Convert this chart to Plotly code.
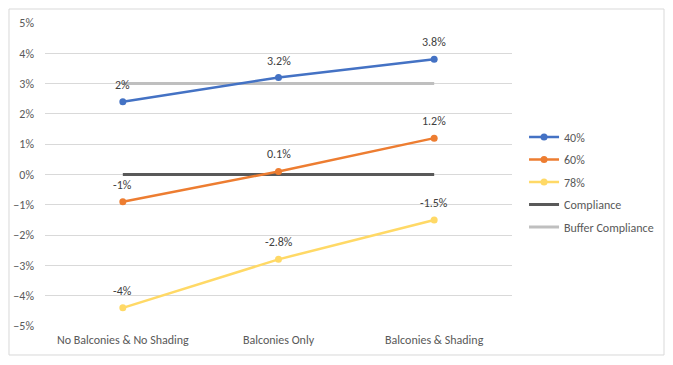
import plotly.graph_objects as go

categories = ["No Balconies & No Shading", "Balconies Only", "Balconies & Shading"]
s40 = [2.4, 3.2, 3.8]
s40_labels = ["2%", "3.2%", "3.8%"]
s60 = [-0.9, 0.1, 1.2]
s60_labels = ["-1%", "0.1%", "1.2%"]
s78 = [-4.4, -2.8, -1.5]
s78_labels = ["-4%", "-2.8%", "-1.5%"]
compliance = [0, 0, 0]
buffer_compliance = [3, 3, 3]

font_family = "Carlito, Liberation Sans, Arial, sans-serif"
txt_color = "#595959"

fig = go.Figure()

fig.add_trace(go.Scatter(x=categories, y=compliance, name="Compliance", mode="lines",
                         line=dict(color="#595959", width=3), legendrank=4, legendgroup="c"))
fig.add_trace(go.Scatter(x=categories, y=buffer_compliance, name="Buffer Compliance", mode="lines",
                         line=dict(color="#BFBFBF", width=3), legendrank=5, legendgroup="b"))

annotations = []
for name, ys, labels, color, rank in [
    ("40%", s40, s40_labels, "#4472C4", 1),
    ("60%", s60, s60_labels, "#ED7D31", 2),
    ("78%", s78, s78_labels, "#FFD966", 3),
]:
    fig.add_trace(go.Scatter(x=categories, y=ys, name=name, mode="lines+markers",
                             line=dict(color=color, width=2.5),
                             marker=dict(color=color, size=7), legendrank=rank,
                             legendgroup=name))
    for c, v, t in zip(categories, ys, labels):
        annotations.append(dict(x=c, y=v, text=t, showarrow=False, yshift=17,
                                font=dict(size=12, color="#404040", family=font_family)))

fig.update_layout(
    width=665, height=357,
    margin=dict(l=37, r=161, t=15, b=39, autoexpand=False),
    paper_bgcolor="white", plot_bgcolor="white",
    font=dict(family=font_family, size=12, color=txt_color),
    showlegend=True,
    annotations=annotations,
    legend=dict(xref="container", yref="container", x=0.776, y=0.679,
                xanchor="left", yanchor="top",
                font=dict(size=12, color=txt_color), tracegroupgap=3.5,
                itemwidth=30, bgcolor="rgba(0,0,0,0)"),
    xaxis=dict(showgrid=False, showline=False, ticks="", type="category",
               range=[-0.5, 2.5], automargin=False, ticklabelstandoff=5,
               tickfont=dict(size=12, color=txt_color)),
    yaxis=dict(range=[-5, 5], dtick=1, ticksuffix="%", showgrid=True,
               gridcolor="#D9D9D9", gridwidth=1, zeroline=False, showline=False,
               automargin=False, ticklabelstandoff=10,
               tickfont=dict(size=12, color=txt_color)),
    shapes=[dict(type="rect", xref="paper", yref="paper",
                 x0=-0.0771, x1=1.3255, y0=-0.0957, y1=1.0462,
                 line=dict(color="#D9D9D9", width=1), fillcolor="rgba(0,0,0,0)")],
)

fig.write_html("out.html")
